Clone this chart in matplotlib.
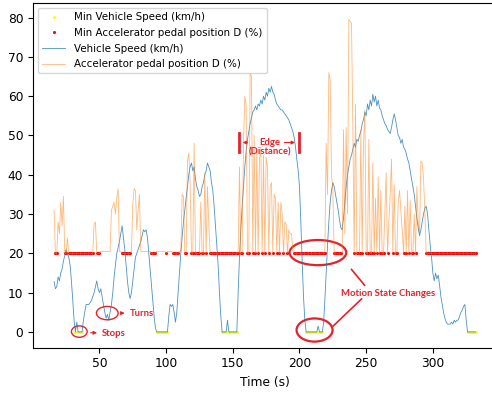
import numpy as np
import matplotlib.pyplot as plt
from matplotlib.patches import Ellipse

# ---------------------------------------------------------
# Drive log: vehicle speed vs accelerator pedal, one sample per second
# ---------------------------------------------------------

time_start = 16   # first sample (s)

vehicle_speed = [
    12.8, 11, 11.5, 14,                                   # 16-19
    13, 15, 16, 18, 19.5, 21, 20, 19, 17, 13,             # 20-29
    8, 3, 0, 2.5, 0, 0, 0, 0, 3, 5,                       # 30-39
    7, 7, 7, 7.5, 8, 9, 10, 11.5, 13, 11,                 # 40-49
    10, 11, 9, 7, 5, 3.5, 4.5, 3, 5, 7,                   # 50-59
    10, 14, 17, 20, 21.5, 23, 25, 27, 24, 21,             # 60-69
    17, 13, 10, 8.5, 10, 13, 16, 19, 20, 21,              # 70-79
    22, 23, 24.5, 26, 25.5, 26, 24, 20, 16, 12,           # 80-89
    8, 4, 1, 0, 0, 0, 0, 0, 0, 0,                         # 90-99
    0, 0, 4, 7, 6.5, 7, 5, 2.5, 5, 10,                    # 100-109
    15, 20, 24, 28, 31, 34, 37, 40, 42, 43,               # 110-119
    41, 42, 39, 37, 36, 34.5, 35, 37, 38, 40,             # 120-129
    41, 43, 42, 41, 38, 36, 32, 27, 22, 17,               # 130-139
    10, 4, 0, 0, 0, 0, 3, 0, 0, 0,                        # 140-149
    0, 0, 0, 0, 10, 19, 26, 32, 37, 42,                   # 150-159
    46, 49, 51, 53, 54.5, 56, 56.5, 57.5, 56.5, 58,       # 160-169
    57.5, 59, 58, 60, 59, 61, 60, 62, 61, 62.5,           # 170-179
    61, 60.5, 59, 58, 57.5, 57, 56.5, 56.5, 56, 55.5,     # 180-189
    55, 54.5, 54, 53, 52, 51, 49.5, 47, 44, 41,           # 190-199
    37, 28, 18, 9, 3, 0, 0, 0, 0, 0,                      # 200-209
    0, 0, 0, 0, 1.5, 0, 0, 0, 2, 8,                       # 210-219
    15, 22, 28, 33, 36, 38, 37, 35, 33, 31,               # 220-229
    28.5, 26.5, 26, 29, 33, 37, 40, 42, 44, 45,           # 230-239
    46.5, 48, 47, 49, 48.5, 50, 51, 53, 54, 56,           # 240-249
    55, 58, 56.5, 59, 57.5, 60.5, 58.5, 60, 57.5, 59,     # 250-259
    57, 56.5, 55, 54, 53, 52.5, 51.5, 51, 50.5, 52,       # 260-269
    54, 55.5, 54, 52, 50, 49.5, 48, 49, 47, 46.5,         # 270-279
    45.5, 44, 43, 41, 39, 37, 35, 32, 29, 26.5,           # 280-289
    24.5, 26, 28, 30, 31.5, 32, 30, 26, 22, 19,           # 290-299
    15, 13, 15, 13.5, 14.5, 12, 9, 7, 5, 3.5,             # 300-309
    2.5, 2, 2, 2, 2.5, 2, 3, 2.5, 3, 3,                   # 310-319
    4, 5, 5.5, 6.5, 7, 3, 0, 0, 0, 0,                     # 320-329
    0, 0, 0,                                              # 330-332
]

accel_pedal = [
    31, 20, 20, 28,                                                # 16-19
    25, 33, 27, 34.5, 20, 20, 24, 20, 20, 20,                      # 20-29
    20, 20, 20, 20, 20, 20, 20, 20, 20, 20,                        # 30-39
    20, 20, 20, 20, 20, 20, 27.5, 28, 20, 20,                      # 40-49
    20, 20.5, 20.5, 20.5, 20.5, 20.5, 20.5, 20.5, 20.5, 31,        # 50-59
    32, 33, 30, 34, 36.5, 20.5, 20.5, 20, 20, 20,                  # 60-69
    20, 20, 20, 20, 20.5, 32.5, 36.5, 36, 26, 31,                  # 70-79
    35, 20.5, 20.5, 20.5, 20.5, 20.5, 20.5, 20.5, 20.5, 20,        # 80-89
    20, 20, 20, 20.5, 20.5, 20.5, 20.5, 20.5, 20.5, 20.5,          # 90-99
    20, 20.5, 20.5, 20.5, 20.5, 20, 20, 20, 20, 20,                # 100-109
    20.5, 20.5, 35, 34.5, 20, 20, 43.5, 45.5, 38, 20,              # 110-119
    20, 48, 20, 20, 20, 20, 33, 20, 20, 40.5,                      # 120-129
    20, 37, 27.5, 20, 20, 20, 20, 20, 20, 20,                      # 130-139
    20, 20, 20, 20, 20, 20, 20, 20, 20, 20,                        # 140-149
    20, 20, 20, 20, 20, 42, 20, 20, 48, 60,                        # 150-159
    57.5, 20, 20, 66, 65, 20, 50, 20, 46, 20,                      # 160-169
    44, 47, 20, 45, 20, 44.5, 42, 20, 37, 38,                      # 170-179
    20, 35, 34, 20, 33, 20, 33, 30, 20, 28,                        # 180-189
    27.5, 20, 26, 25, 25, 21, 20, 20, 20, 20,                      # 190-199
    20, 20, 20, 20, 20, 20, 20, 20, 20, 20,                        # 200-209
    20, 20, 20, 20, 20, 20, 20, 20, 20, 20,                        # 210-219
    48, 35, 66, 64, 40, 36, 20, 20, 20, 20,                        # 220-229
    20, 20, 20.5, 51.5, 25, 52, 30, 79.5, 79, 78.5,                # 230-239
    52, 20, 58, 20, 20, 20, 51.5, 20, 48, 56.5,                    # 240-249
    20, 20, 49, 20, 20, 43, 20, 34, 20, 39.5,                      # 250-259
    20, 36, 20, 20, 30, 40.5, 20, 28, 35, 44,                      # 260-269
    20, 37.5, 20, 20, 33, 36, 31, 26, 20, 32,                      # 270-279
    20, 36, 20, 33.5, 20, 20, 30, 20, 37, 28,                      # 280-289
    25, 43.5, 43, 39, 30.5, 20, 20, 20, 20, 20,                    # 290-299
    20, 20, 20, 20, 20, 20, 20, 20, 20, 20,                        # 300-309
    20, 20, 20, 20, 20, 20, 20, 20, 20, 20,                        # 310-319
    20, 20, 20, 20, 20, 20, 20, 20, 20, 20,                        # 320-329
    20, 20, 20,                                                    # 330-332
]

time_s = np.arange(time_start, time_start + len(vehicle_speed))
speed = np.array(vehicle_speed)
pedal = np.array(accel_pedal)

# samples sitting at the minimum of each signal
speed_min = speed == speed.min()
pedal_min = pedal == pedal.min()

# ---------------------------------------------------------
# Plot
# ---------------------------------------------------------
fig = plt.figure(figsize=(4.92, 3.94), dpi=100)
ax = fig.add_axes([0.0671, 0.1175, 0.9423, 0.8749])

ax.plot(time_s[speed_min], speed[speed_min], 'o', color='#ffff00', markersize=2.2,
        markeredgewidth=0, label='Min Vehicle Speed (km/h)')
ax.plot(time_s[pedal_min], pedal[pedal_min], 'o', color='#ff0000', markersize=2.2,
        markeredgewidth=0, label='Min Accelerator pedal position D (%)')
ax.plot(time_s, speed, color='#1f77b4', linewidth=0.6, alpha=0.8,
        label='Vehicle Speed (km/h)')
ax.plot(time_s, pedal, color='#ff7f0e', linewidth=0.6, alpha=0.55,
        label='Accelerator pedal position D (%)')

ax.set_xlim(0.2, 347.8)
ax.set_ylim(-4.0, 83.7)
ax.set_xticks([50, 100, 150, 200, 250, 300])
ax.set_yticks([0, 10, 20, 30, 40, 50, 60, 70, 80])
ax.tick_params(labelsize=8.8)
ax.set_xlabel('Time (s)', fontsize=8.8)
ax.legend(loc='upper left', fontsize=7.4, handlelength=2.2, handletextpad=0.9,
          labelspacing=0.55)

# --- hand-drawn style annotations ---
red = '#e8202a'
note = dict(color=red, fontsize=6.8, fontweight='bold', family=['Lato', 'DejaVu Sans'])

# Stops
ax.add_patch(Ellipse((34.9, 0.1), 11.8, 2.9, fill=False, edgecolor=red, linewidth=1.0))
ax.annotate('', xy=(50.3, -0.2), xytext=(41.3, -0.2),
            arrowprops=dict(arrowstyle='-|>', color=red, lw=0.8, mutation_scale=5))
ax.text(52, -0.3, 'Stops', ha='left', va='center', **note)

# Turns
ax.add_patch(Ellipse((55.9, 4.8), 16.3, 3.4, fill=False, edgecolor=red, linewidth=1.0))
ax.annotate('', xy=(71, 4.8), xytext=(64, 4.8),
            arrowprops=dict(arrowstyle='-|>', color=red, lw=0.8, mutation_scale=5))
ax.text(72.8, 4.8, 'Turns', ha='left', va='center', **note)

# Edge (Distance)
ax.plot([154.5, 154.5], [45.9, 50.5], color=red, linewidth=2)
ax.plot([199.7, 199.7], [45.9, 50.5], color=red, linewidth=2)
ax.annotate('', xy=(155.3, 48.2), xytext=(163, 48.2),
            arrowprops=dict(arrowstyle='-|>', color=red, lw=0.8, mutation_scale=5))
ax.annotate('', xy=(198.8, 48.2), xytext=(186.5, 48.2),
            arrowprops=dict(arrowstyle='-|>', color=red, lw=0.8, mutation_scale=5))
ax.text(177.8, 48.3, 'Edge', ha='center', va='center', **note)
ax.text(177.8, 45.7, '(Distance)', ha='center', va='center', **note)

# Motion State Changes
ax.add_patch(Ellipse((213.8, 20.2), 42.5, 6.4, fill=False, edgecolor=red, linewidth=1.6))
ax.add_patch(Ellipse((211.3, 0.5), 27, 5.9, fill=False, edgecolor=red, linewidth=1.6))
ax.plot([248.8, 239], [11.9, 15.9], color=red, linewidth=1.2)
ax.plot([246.5, 225.2], [8.4, 1.5], color=red, linewidth=1.2)
ax.text(266.7, 9.8, 'Motion State Changes', ha='center', va='center', **note)

fig.savefig('out.png', dpi=100)
